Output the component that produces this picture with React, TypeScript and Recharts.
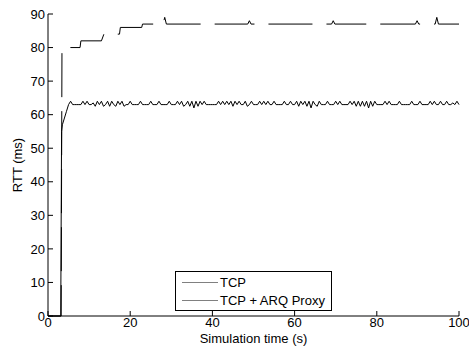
import { Label, Legend, Line, LineChart, XAxis, YAxis } from "recharts"

const xTicks = [0, 20, 40, 60, 80, 100]
const yTicks = [0, 10, 20, 30, 40, 50, 60, 70, 80, 90]

// TCP (upper, dashed) - step-like curve
const tcpTime = [0, 3.2, 3.4, 7.8, 8.0, 13.0, 13.6, 17.4, 17.6, 22.8, 23.0, 28.0, 28.4, 28.8, 48.6, 49.0, 49.4, 69.0, 69.4, 69.8, 89.4, 89.8, 90.2, 94.2, 94.6, 95.0, 100]
const tcpRtt = [0, 0, 80, 80, 82, 82, 84, 84, 86, 86, 87, 87, 89, 87, 87, 88, 87, 87, 88, 87, 87, 88, 87, 87, 89, 87, 87]

// TCP + ARQ Proxy: start-up, then sampled every 0.5 s from 3.5 s
const arqStartTime = [0, 3.1, 3.3]
const arqStartRtt = [0, 0, 55]
const arqStep = 0.5
const arqRtt = [
  57, 59, 61, 63, 64,
  63, 63, 63, 63, 63, 64, 63, 64, 63, 63, 63.5, 62.5, 64, 63, 64, 62.5, 63, 64, 62.5, 64,
  63, 62.5, 64, 63, 64, 62.5, 63, 63, 64, 63, 63, 63, 63, 64, 63, 63, 63, 63, 64, 63,
  63, 63, 64, 63, 63, 63, 63, 64, 63, 63, 63, 64, 63, 64, 62.5, 63, 64, 62.5, 64, 62,
  64, 62.5, 64, 63, 64, 63, 63, 63, 63, 63, 63, 64, 63, 64, 63, 64, 63, 64, 62.5, 64,
  63, 64, 63, 63, 64, 62.5, 63, 64, 63, 63, 63, 64, 63, 64, 63, 64, 63, 63, 64, 63,
  63, 63, 63, 64, 63, 63, 64, 63, 63, 64, 62.5, 64, 63, 64, 62.5, 64, 62, 64, 63, 62.5,
  64, 63, 63, 63, 64, 63, 63, 63, 64, 63, 64, 63, 63, 63, 63, 64, 63, 64, 62.5, 64,
  62.5, 64, 62.5, 64, 62, 64, 62.5, 64, 63, 63, 63, 63, 64, 63, 64, 63, 63, 63, 63, 64,
  63, 63, 63, 63, 63, 64, 63, 63, 63, 64, 63, 63, 63, 63, 64, 63, 64, 63, 63, 64,
  63, 63, 64, 63, 63, 63.5, 63, 64, 63,
]

const tcpData = tcpTime.map((t, i) => ({ t, rtt: tcpRtt[i] }))
const arqData = [
  ...arqStartTime.map((t, i) => ({ t, rtt: arqStartRtt[i] })),
  ...arqRtt.map((v, i) => ({ t: 3.5 + i * arqStep, rtt: v })),
]

const font = "Arial, 'Liberation Sans', Helvetica, sans-serif"

const renderLegend = (props: any) => {
  const items = props.payload || []
  return (
    <div
      style={{
        border: "1px solid #000",
        background: "#fff",
        width: 155,
        height: 37,
        boxSizing: "content-box",
        fontFamily: font,
        fontSize: 13,
        color: "#000",
        paddingTop: 1,
      }}
    >
      {items.map((item: any) => (
        <div key={item.value} style={{ display: "flex", alignItems: "center", height: 18 }}>
          <div style={{ width: 36, height: 0, borderTop: "1px solid #808080", marginLeft: 6, marginRight: 2 }} />
          <span style={{ whiteSpace: "nowrap" }}>{item.value}</span>
        </div>
      ))}
    </div>
  )
}

export default function App() {
  return (
    <div style={{ width: 469, height: 351 }}>
      <style>{`body { margin: 0; }`}</style>
      <LineChart width={469} height={351} margin={{ top: 14, right: 10, left: 8, bottom: 0 }}>
        <XAxis
          dataKey="t"
          type="number"
          domain={[0, 100]}
          ticks={xTicks}
          interval={0}
          stroke="#000"
          tickSize={-5}
          tickMargin={7}
          height={35}
          tick={{ fill: "#000", fontSize: 13, fontFamily: font }}
        >
          <Label
            content={(p: any) => {
              const vb = p.viewBox
              return (
                <text
                  x={vb.x + vb.width / 2}
                  y={vb.y + 22}
                  textAnchor="middle"
                  dominantBaseline="central"
                  fontSize={13}
                  fontFamily={font}
                  fill="#000"
                >
                  Simulation time (s)
                </text>
              )
            }}
          />
        </XAxis>
        <XAxis
          xAxisId="top"
          orientation="top"
          dataKey="t"
          type="number"
          domain={[0, 100]}
          ticks={xTicks}
          interval={0}
          stroke="#000"
          tickSize={-5}
          height={0}
          tickFormatter={() => ""}
        />
        <YAxis
          type="number"
          domain={[0, 90]}
          ticks={yTicks}
          interval={0}
          stroke="#000"
          tickSize={-5}
          tickMargin={8}
          width={40}
          tick={{ fill: "#000", fontSize: 13, fontFamily: font }}
        >
          <Label
            content={(p: any) => {
              const vb = p.viewBox
              const x = vb.x + 9
              const y = vb.y + vb.height / 2
              return (
                <text
                  x={x}
                  y={y}
                  transform={`rotate(-90, ${x}, ${y})`}
                  textAnchor="middle"
                  dominantBaseline="central"
                  fontSize={13}
                  fontFamily={font}
                  fill="#000"
                >
                  RTT (ms)
                </text>
              )
            }}
          />
        </YAxis>
        <YAxis
          yAxisId="right"
          orientation="right"
          type="number"
          domain={[0, 90]}
          ticks={yTicks}
          interval={0}
          stroke="#000"
          tickSize={-5}
          width={0}
          tickFormatter={() => ""}
        />
        <Legend
          verticalAlign="middle"
          align="center"
          content={renderLegend}
          wrapperStyle={{ left: 175, top: 271, width: 157, height: 39 }}
        />
        <Line
          data={tcpData}
          dataKey="rtt"
          name="TCP"
          type="linear"
          stroke="#000"
          strokeWidth={1}
          strokeDasharray="44 14"
          dot={false}
          isAnimationActive={false}
        />
        <Line
          data={arqData}
          dataKey="rtt"
          name="TCP + ARQ Proxy"
          type="linear"
          stroke="#000"
          strokeWidth={1}
          dot={false}
          isAnimationActive={false}
        />
      </LineChart>
    </div>
  )
}
